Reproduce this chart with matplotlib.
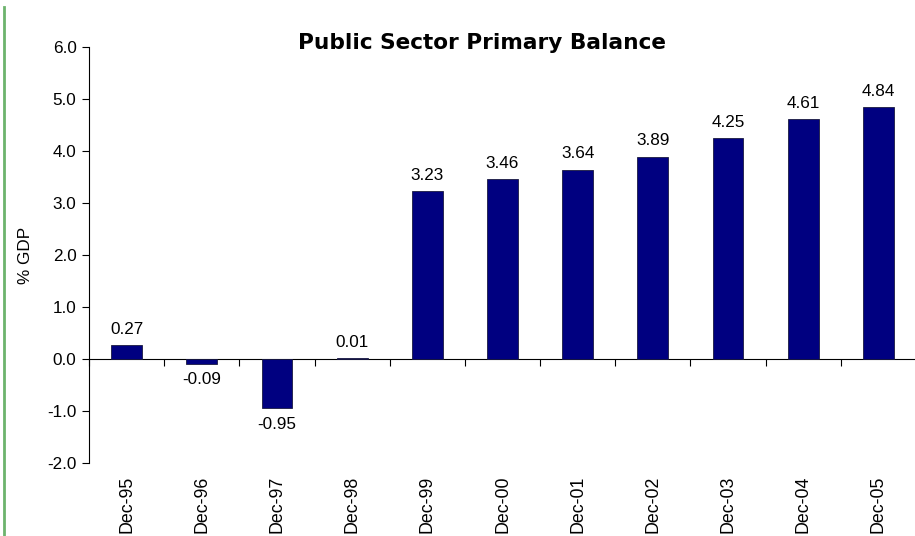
import matplotlib
matplotlib.use("Agg")
import matplotlib.pyplot as plt
from matplotlib.lines import Line2D
import numpy as np

categories = ["Dec-95", "Dec-96", "Dec-97", "Dec-98", "Dec-99", "Dec-00",
              "Dec-01", "Dec-02", "Dec-03", "Dec-04", "Dec-05"]
values = [0.27, -0.09, -0.95, 0.01, 3.23, 3.46, 3.64, 3.89, 4.25, 4.61, 4.84]
y_ticks = [-2.0, -1.0, 0.0, 1.0, 2.0, 3.0, 4.0, 5.0, 6.0]

plt.rcParams["font.family"] = ["Liberation Sans", "DejaVu Sans"]

fig = plt.figure(figsize=(9.15, 5.36), dpi=100)
ax = fig.add_axes([89 / 915, 73 / 536, 827 / 915, 416 / 536])

x = np.arange(len(categories))
ax.bar(x, values, width=0.41, color="#000080", edgecolor="#1a1a40",
       linewidth=0.6, zorder=3)

# value labels above positive bars, below negative ones
for xi, v in zip(x, values):
    if v >= 0:
        ax.annotate(f"{v:.2f}", (xi, v), xytext=(0, 6), textcoords="offset points",
                    ha="center", va="bottom", fontsize=12.3)
    else:
        ax.annotate(f"{v:.2f}", (xi, v), xytext=(0, -6), textcoords="offset points",
                    ha="center", va="top", fontsize=12.3)

ax.set_xlim(-0.5, len(categories) - 0.5)
ax.set_ylim(-2, 6)
ax.set_yticks(y_ticks)
ax.set_yticklabels([f"{t:.1f}" for t in y_ticks], fontsize=12.3)
ax.tick_params(axis="y", direction="out", length=5, width=0.8, pad=4)

# category axis crosses at zero, with ticks between categories
for s in ["top", "right"]:
    ax.spines[s].set_visible(False)
ax.spines["left"].set_linewidth(0.8)
ax.spines["bottom"].set_position(("data", 0))
ax.spines["bottom"].set_linewidth(0.8)
ax.set_xticks(np.arange(len(categories) + 1) - 0.5)
ax.tick_params(axis="x", direction="out", length=5, width=0.8, labelbottom=False)

# category labels along the bottom of the plot area
sec = ax.secondary_xaxis("bottom")
sec.set_xticks(x)
sec.set_xticklabels(categories, rotation=90, fontsize=12.8)
sec.tick_params(axis="x", length=0, pad=9)
sec.spines["bottom"].set_visible(False)

ax.set_ylabel("% GDP", fontsize=12.3, labelpad=10)
fig.text(482 / 915, 1 - 43 / 536, "Public Sector Primary Balance", fontsize=15.6,
         fontweight="bold", family="DejaVu Sans", ha="center", va="center")

fig.add_artist(Line2D([3.5 / 915, 3.5 / 915], [0, 1 - 7 / 536],
                      transform=fig.transFigure, color="#6db36d", linewidth=2))

fig.savefig("out.png", dpi=100)
